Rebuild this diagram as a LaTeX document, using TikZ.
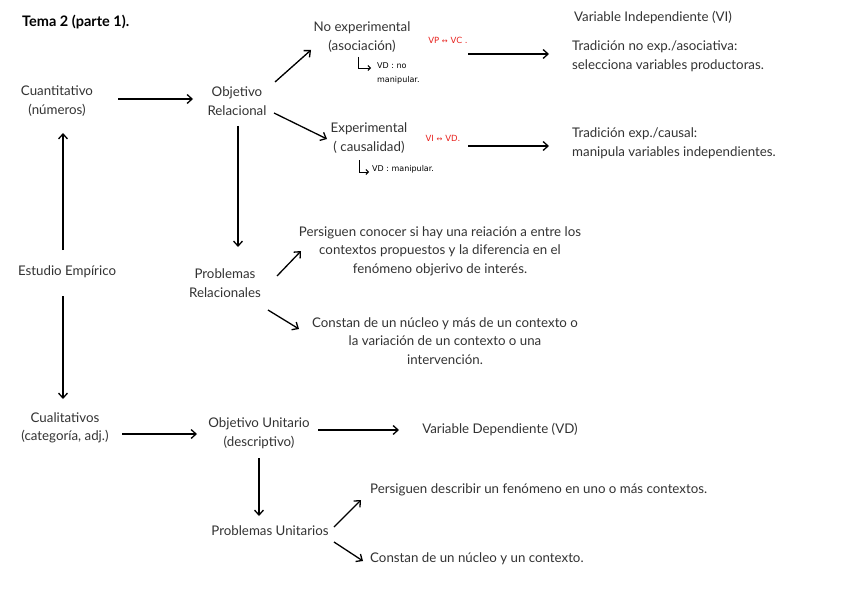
\documentclass[tikz,border=0pt]{standalone}
\usepackage{fontspec}
\setmainfont{Lato}
\newfontfamily\djv{DejaVu Sans}
\usetikzlibrary{arrows.meta}
\definecolor{txt}{HTML}{333333}
\definecolor{hand}{HTML}{E8231F}
\tikzset{
  lbl/.style={text=txt, font=\fontsize{13.3}{18.5}\selectfont, align=center, inner sep=0pt},
  lbll/.style={text=txt, font=\fontsize{13.3}{18.5}\selectfont, align=left, inner sep=0pt, anchor=west},
  note/.style={text=black, font=\djv\fontsize{8}{14}\selectfont, align=left, inner sep=0pt, anchor=west},
  rednote/.style={text=hand, font=\djv\fontsize{8.5}{9}\selectfont, inner sep=0pt},
  arr/.style={draw=black, line width=1.3pt, -{Straight Barb[length=5pt,width=9pt]}},
  hook/.style={draw=black, line width=0.9pt, -{Straight Barb[length=2.5pt,width=5pt]}},
}
\begin{document}
\begin{tikzpicture}[x=1pt,y=-1pt]
\useasboundingbox (0,0) rectangle (848,599);
\fill[white] (0,0) rectangle (848,599);

\node[inner sep=0pt, anchor=west, font=\bfseries\fontsize{14.5}{16}\selectfont] (title) at (22,22) {Tema 2 (parte 1).};

% left column
\node[lbl] (cuant) at (57,101) {Cuantitativo\\(números)};
\node[lbl] (emp) at (67,272) {Estudio Empírico};
\node[lbl] (cual) at (65,428) {Cualitativos\\(categoría, adj.)};

\coordinate (cuantE) at (118,99);
\coordinate (relW) at (193,99);
\draw[arr] (cuantE) -- (relW);
\coordinate (empN) at (63,250);
\coordinate (cuantS) at (63,133);
\draw[arr] (empN) -- (cuantS);
\coordinate (empS) at (63,296);
\coordinate (cualN) at (63,399);
\draw[arr] (empS) -- (cualN);

% relacional branch
\node[lbl] (rel) at (237,101) {Objetivo\\Relacional};
\node[lbl] (noexp) at (362,37) {No experimental\\(asociación)};
\node[lbl] (exp) at (369,138) {Experimental\\( causalidad)};

\coordinate (relNE) at (275,82);
\coordinate (noexpSW) at (311,50);
\draw[arr] (relNE) -- (noexpSW);
\coordinate (relSE) at (274,113);
\coordinate (expW) at (327,139);
\draw[arr] (relSE) -- (expW);

\node[rednote] (vpvc) at (448,40) {VP {\fontsize{7}{8}\selectfont↔} VC .};
\node[rednote] (vivd) at (443,138) {VI {\fontsize{7}{8}\selectfont↔} VD.};

\coordinate (a1s) at (468,54);
\coordinate (a1e) at (549,54);
\draw[arr] (a1s) -- (a1e);
\coordinate (a2s) at (468,146);
\coordinate (a2e) at (549,146);
\draw[arr] (a2s) -- (a2e);

\node[lbll] (vi) at (574,17) {Variable Independiente (VI)};
\node[lbll] (tne) at (572,56) {Tradición no exp./asociativa:\\selecciona variables productoras.};
\node[lbll] (te) at (572,143) {Tradición exp./causal:\\manipula variables independientes.};

% hooks
\coordinate (h1a) at (358,57);
\coordinate (h1b) at (358,68);
\coordinate (h1c) at (371,68);
\draw[hook] (h1a) -- (h1b) -- (h1c);
\node[note] (h1t) at (377,73) {VD : no\\manipular.};
\coordinate (h2a) at (359,160);
\coordinate (h2b) at (359,172);
\coordinate (h2c) at (369,172);
\draw[hook] (h2a) -- (h2b) -- (h2c);
\node[note] (h2t) at (372,169) {VD : manipular.};

% problemas relacionales
\coordinate (relS) at (238,126);
\coordinate (prN) at (238,247);
\draw[arr] (relS) -- (prN);
\node[lbl] (pr) at (225,283) {Problemas\\Relacionales};
\node[lbl] (prt1) at (440,251) {Persiguen conocer si hay una reiación a entre los\\contextos propuestos y la diferencia en el\\fenómeno objerivo de interés.};
\node[lbl] (prt2) at (445,341) {Constan de un núcleo y más de un contexto o\\la variación de un contexto o una\\intervención.};
\coordinate (prNE) at (277,276);
\coordinate (prt1W) at (301,251);
\draw[arr] (prNE) -- (prt1W);
\coordinate (prSE) at (268,310);
\coordinate (prt2W) at (299,329);
\draw[arr] (prSE) -- (prt2W);

% unitario branch
\node[lbl] (uni) at (259,433) {Objetivo Unitario\\(descriptivo)};
\coordinate (cualE) at (122,434);
\coordinate (uniW) at (197,434);
\draw[arr] (cualE) -- (uniW);
\node[lbl] (vd) at (500,429) {Variable Dependiente (VD)};
\coordinate (uniE) at (318,430);
\coordinate (vdW) at (399,430);
\draw[arr] (uniE) -- (vdW);

\coordinate (uniS) at (259,458);
\coordinate (puN) at (259,516);
\draw[arr] (uniS) -- (puN);
\node[lbl] (pu) at (270,531) {Problemas Unitarios};
\node[lbll] (put1) at (370,490) {Persiguen describir un fenómeno en uno o más contextos.};
\node[lbll] (put2) at (370,559) {Constan de un núcleo y un contexto.};
\coordinate (puNE) at (334,527);
\coordinate (put1W) at (361,500);
\draw[arr] (puNE) -- (put1W);
\coordinate (puSE) at (334,542);
\coordinate (put2W) at (363,561);
\draw[arr] (puSE) -- (put2W);
\end{tikzpicture}
\end{document}
